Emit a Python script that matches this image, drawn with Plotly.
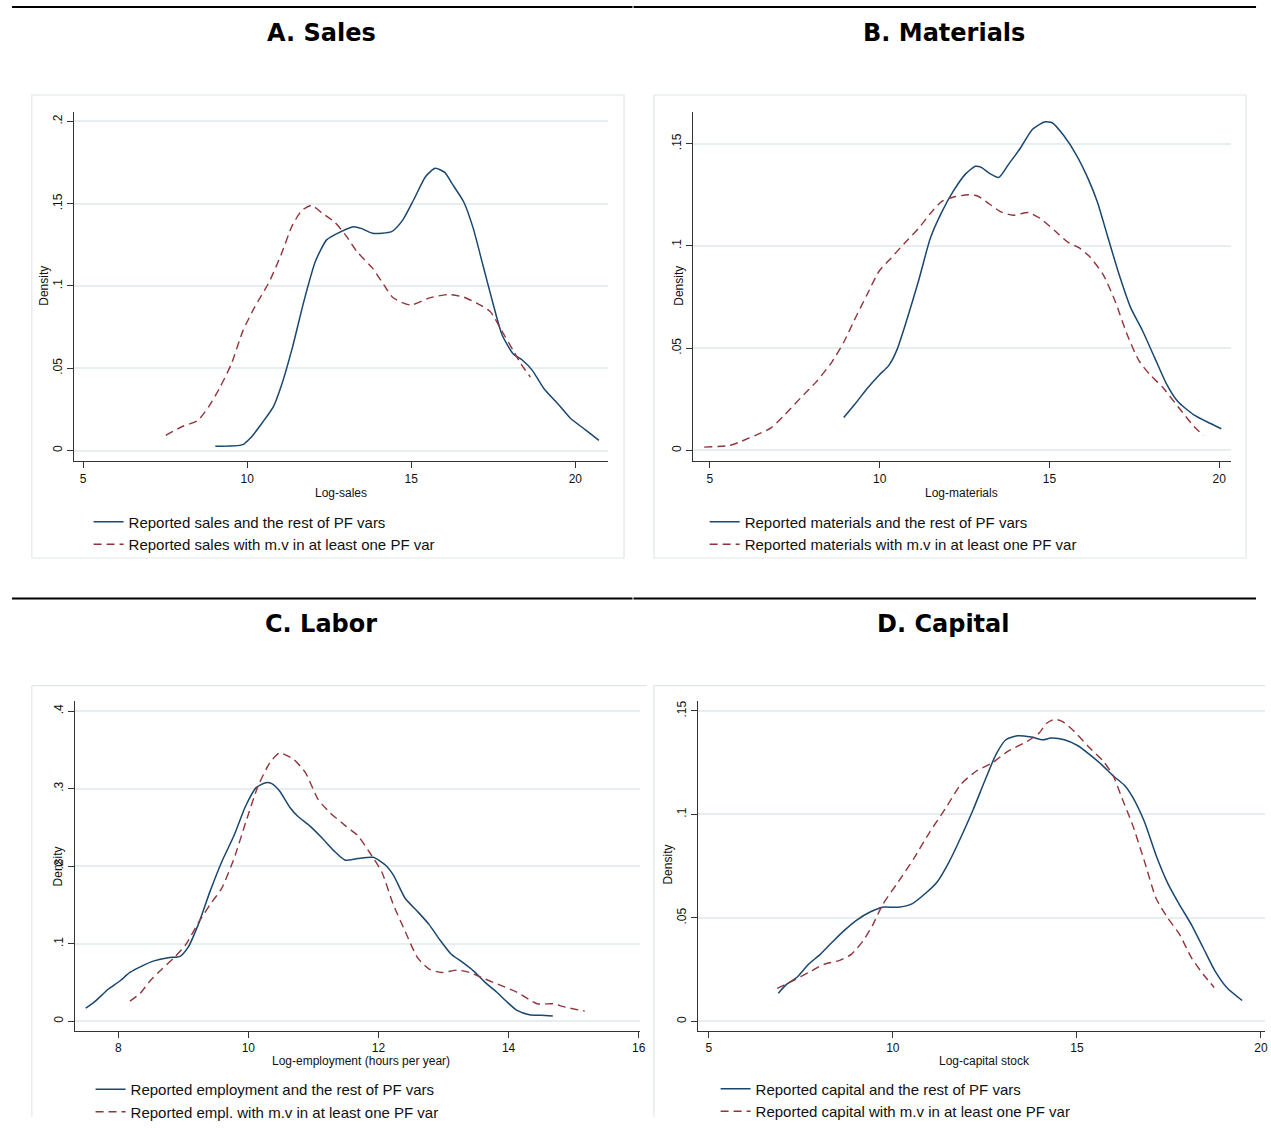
import plotly.graph_objects as go

W, H = 1271, 1128

NAVY = "#1a476f"
MAROON = "#90353b"
GRID = "#e6eef0"
BOX = "#e1e7e9"
AXIS = "#333333"

# ---- A. Sales (log-sales) ----
sales_full_x = [9.03, 9.87, 10.1, 10.45, 10.8, 11.03, 11.38, 11.73, 12.08, 12.42, 12.66, 13.24,
                13.47, 13.82, 14.4, 14.74, 15.09, 15.44, 15.73, 16.02, 16.25, 16.6, 16.89, 17.18,
                17.47, 17.76, 18.11, 18.4, 18.69, 19.04, 19.5, 19.85, 20.31, 20.72]
sales_full_y = [0.0026, 0.0036, 0.0076, 0.0166, 0.0267, 0.0387, 0.0627, 0.0908, 0.115, 0.128,
                0.131, 0.136, 0.135, 0.132, 0.133, 0.140, 0.153, 0.1665, 0.1715, 0.169, 0.162,
                0.151, 0.135, 0.113, 0.091, 0.0707, 0.0587, 0.0547, 0.0487, 0.0377, 0.0277,
                0.0196, 0.0126, 0.0062]
sales_mv_x = [7.52, 8.02, 8.48, 8.83, 9.18, 9.52, 9.87, 10.22, 10.68, 11.03, 11.38, 11.67, 11.96,
              12.31, 12.66, 13.0, 13.35, 13.82, 14.16, 14.45, 14.98, 15.56, 16.14, 16.6, 17.06,
              17.41, 17.76, 18.11, 18.34, 18.63]
sales_mv_y = [0.0092, 0.0146, 0.018, 0.0267, 0.0387, 0.0527, 0.0727, 0.0868, 0.1028, 0.1188,
              0.137, 0.1459, 0.1489, 0.1439, 0.1389, 0.1309, 0.1208, 0.1108, 0.1008, 0.0928,
              0.0884, 0.0928, 0.0948, 0.0932, 0.0888, 0.0844, 0.0727, 0.0607, 0.0527, 0.0447]

# ---- B. Materials (log-materials) ----
mat_full_x = [8.94, 9.29, 9.63, 9.98, 10.27, 10.5, 10.79, 11.14, 11.49, 11.83, 12.18, 12.53,
              12.82, 12.99, 13.22, 13.51, 13.8, 14.15, 14.5, 14.85, 15.08, 15.43, 15.78, 16.12,
              16.41, 16.7, 17.05, 17.39, 17.74, 18.09, 18.44, 18.78, 19.25, 19.71, 20.06]
mat_full_y = [0.0161, 0.0231, 0.0303, 0.0368, 0.0416, 0.0489, 0.0634, 0.0827, 0.1037, 0.1166,
              0.1271, 0.1352, 0.1389, 0.1384, 0.1356, 0.1335, 0.140, 0.148, 0.157, 0.1606,
              0.1602, 0.1537, 0.1448, 0.1335, 0.1215, 0.1053, 0.086, 0.0698, 0.0585, 0.0456,
              0.0327, 0.0239, 0.0174, 0.0134, 0.0106]
mat_mv_x = [4.83, 5.58, 5.93, 6.39, 6.8, 7.2, 7.66, 8.13, 8.59, 8.94, 9.29, 9.63, 9.98, 10.33,
            10.73, 11.14, 11.49, 11.83, 12.18, 12.59, 12.88, 13.22, 13.57, 13.92, 14.38, 14.73,
            15.19, 15.54, 15.89, 16.18, 16.58, 16.93, 17.28, 17.63, 17.97, 18.32, 18.78, 19.25,
            19.54]
mat_mv_y = [0.0016, 0.0024, 0.0045, 0.0077, 0.011, 0.0174, 0.0255, 0.0335, 0.0432, 0.0529,
            0.065, 0.0763, 0.0876, 0.094, 0.1013, 0.1085, 0.1158, 0.1218, 0.1239, 0.125, 0.1244,
            0.1206, 0.1166, 0.115, 0.1163, 0.1134, 0.1069, 0.1018, 0.0989, 0.0948, 0.086,
            0.0731, 0.0569, 0.044, 0.0368, 0.0311, 0.0215, 0.0118, 0.0073]

# ---- C. Labor (log-employment, hours per year) ----
lab_full_x = [7.5, 7.63, 7.85, 8.03, 8.18, 8.37, 8.55, 8.77, 8.95, 9.07, 9.23, 9.41, 9.59, 9.78,
              9.96, 10.12, 10.27, 10.36, 10.48, 10.64, 10.76, 10.94, 11.13, 11.31, 11.49, 11.68,
              11.92, 12.11, 12.23, 12.41, 12.6, 12.78, 12.94, 13.12, 13.3, 13.46, 13.64, 13.82,
              13.98, 14.13, 14.32, 14.5, 14.68]
lab_full_y = [0.017, 0.0247, 0.0417, 0.0523, 0.063, 0.0715, 0.0779, 0.0821, 0.0838, 0.0949,
              0.1247, 0.1672, 0.2055, 0.2396, 0.2779, 0.3013, 0.3077, 0.3064, 0.297, 0.2757,
              0.2643, 0.2523, 0.2366, 0.2204, 0.2077, 0.2098, 0.2115, 0.2013, 0.1885, 0.1587,
              0.1417, 0.1247, 0.1055, 0.0864, 0.0757, 0.0651, 0.0502, 0.0374, 0.0247, 0.014,
              0.0085, 0.0077, 0.0068]
lab_mv_x = [8.18, 8.34, 8.49, 8.67, 8.86, 9.04, 9.23, 9.41, 9.59, 9.78, 9.96, 10.15, 10.33,
            10.48, 10.7, 10.88, 11.07, 11.25, 11.49, 11.68, 11.86, 12.05, 12.23, 12.41, 12.6,
            12.78, 12.97, 13.21, 13.4, 13.64, 13.89, 14.13, 14.44, 14.68, 14.87, 15.17]
lab_mv_y = [0.026, 0.0362, 0.0523, 0.0672, 0.0821, 0.0991, 0.1268, 0.1502, 0.1715, 0.2098,
            0.2566, 0.3034, 0.3332, 0.346, 0.3374, 0.3204, 0.2864, 0.2694, 0.2523, 0.2396,
            0.2183, 0.1928, 0.1502, 0.1162, 0.0821, 0.0672, 0.063, 0.066, 0.063, 0.0545,
            0.046, 0.0374, 0.0226, 0.0226, 0.0183, 0.0132]

# ---- D. Capital (log-capital stock) ----
cap_full_x = [6.89, 7.12, 7.39, 7.71, 8.03, 8.34, 8.66, 9.03, 9.41, 9.72, 10.15, 10.52, 10.89,
              11.21, 11.53, 11.85, 12.17, 12.48, 12.8, 13.07, 13.39, 13.76, 14.08, 14.29, 14.66,
              15.03, 15.35, 15.67, 15.99, 16.31, 16.52, 16.84, 17.15, 17.47, 17.79, 18.11,
              18.43, 18.75, 19.07, 19.49]
cap_full_y = [0.0136, 0.018, 0.0212, 0.0276, 0.0324, 0.038, 0.0436, 0.0491, 0.0531, 0.0552,
              0.0552, 0.0568, 0.0619, 0.0675, 0.0771, 0.089, 0.1018, 0.1154, 0.1289, 0.1361,
              0.138, 0.1374, 0.1361, 0.1369, 0.1361, 0.1332, 0.1289, 0.1241, 0.1186, 0.1138,
              0.1082, 0.0962, 0.0803, 0.0667, 0.0563, 0.0468, 0.0356, 0.0244, 0.0164, 0.0101]
cap_mv_x = [6.86, 7.28, 7.71, 8.13, 8.56, 8.87, 9.19, 9.46, 9.72, 10.15, 10.57, 11.0, 11.42,
            11.85, 12.27, 12.7, 13.12, 13.65, 13.97, 14.18, 14.39, 14.61, 14.93, 15.35, 15.72,
            15.99, 16.2, 16.52, 16.84, 17.15, 17.47, 17.79, 18.11, 18.43, 18.73]
cap_mv_y = [0.016, 0.0196, 0.0236, 0.0276, 0.0295, 0.0324, 0.0388, 0.0468, 0.0563, 0.0675,
            0.0787, 0.0914, 0.1026, 0.1146, 0.121, 0.1249, 0.1305, 0.1353, 0.1393, 0.1441,
            0.146, 0.1449, 0.1401, 0.1321, 0.1257, 0.1186, 0.109, 0.0946, 0.0771, 0.0595,
            0.0499, 0.042, 0.0308, 0.0228, 0.0164]

# Tick values and labels
sales_xticks = [5, 10, 15, 20]
mat_xticks = [5, 10, 15, 20]
lab_xticks = [8, 10, 12, 14, 16]
cap_xticks = [5, 10, 15, 20]
sales_yticks = [0, 0.05, 0.1, 0.15, 0.2]
sales_ylabels = ["0", ".05", ".1", ".15", ".2"]
mat_yticks = [0, 0.05, 0.1, 0.15]
mat_ylabels = ["0", ".05", ".1", ".15"]
lab_yticks = [0, 0.1, 0.2, 0.3, 0.4]
lab_ylabels = ["0", ".1", ".2", ".3", ".4"]
cap_yticks = [0, 0.05, 0.1, 0.15]
cap_ylabels = ["0", ".05", ".1", ".15"]

panel_titles = ["A. Sales", "B. Materials", "C. Labor", "D. Capital"]
x_titles = ["Log-sales", "Log-materials", "Log-employment (hours per year)", "Log-capital stock"]
legend_full = ["Reported sales and the rest of PF vars",
               "Reported materials and the rest of PF vars",
               "Reported employment and the rest of PF vars",
               "Reported capital and the rest of PF vars"]
legend_mv = ["Reported sales with m.v in at least one PF var",
             "Reported materials with m.v in at least one PF var",
             "Reported empl. with m.v in at least one PF var",
             "Reported capital with m.v in at least one PF var"]


def px(x):
    return x / W


def py(y):
    return 1 - y / H


TEXT_FONT = "Liberation Sans, Arial, sans-serif"

# Per-panel geometry (pixel frame of the plot area) and axis ranges
panels = [
    dict(frame=(74, 611, 111.7, 465), xr=[4.712, 21.0], yr=[-0.0064, 0.206],
         xt=sales_xticks, yt=sales_yticks, yl=sales_ylabels,
         data=(sales_full_x, sales_full_y, sales_mv_x, sales_mv_y),
         title_xy=(323, 32), xtitle_xy=(343, 497), ytitle_xy=(44, 288),
         legend_xy=(89, 510), box=(32, 95, 627, 563)),
    dict(frame=(696.6, 1237, 111.7, 465), xr=[4.51, 20.35], yr=[-0.0052, 0.1657],
         xt=mat_xticks, yt=mat_yticks, yl=mat_ylabels,
         data=(mat_full_x, mat_full_y, mat_mv_x, mat_mv_y),
         title_xy=(948, 32), xtitle_xy=(966, 497), ytitle_xy=(682, 288),
         legend_xy=(708, 510), box=(657, 95, 1252, 563)),
    dict(frame=(75, 643, 708, 1041), xr=[7.33, 16.02], yr=[-0.0124, 0.4124],
         xt=lab_xticks, yt=lab_yticks, yl=lab_ylabels,
         data=(lab_full_x, lab_full_y, lab_mv_x, lab_mv_y),
         title_xy=(323, 630), xtitle_xy=(363, 1071), ytitle_xy=(58, 875),
         legend_xy=(91, 1084), box=None),
    dict(frame=(701, 1271, 708, 1041), xr=[4.70, 20.11], yr=[-0.0046, 0.1546],
         xt=cap_xticks, yt=cap_yticks, yl=cap_ylabels,
         data=(cap_full_x, cap_full_y, cap_mv_x, cap_mv_y),
         title_xy=(948, 630), xtitle_xy=(989, 1071), ytitle_xy=(671, 873),
         legend_xy=(719, 1083), box=None),
]

fig = go.Figure()
annotations = []
shapes = []
layout_axes = {}

for i, p in enumerate(panels):
    n = "" if i == 0 else str(i + 1)
    xa, ya = "x" + n, "y" + n
    leg = "legend" + n
    fx, fy, mx, my = p["data"]
    fig.add_trace(go.Scatter(
        x=fx, y=fy, mode="lines", name=legend_full[i], xaxis=xa, yaxis=ya, legend=leg,
        line=dict(color=NAVY, width=1.5, shape="spline", smoothing=0.6)))
    fig.add_trace(go.Scatter(
        x=mx, y=my, mode="lines", name=legend_mv[i], xaxis=xa, yaxis=ya, legend=leg,
        line=dict(color=MAROON, width=1.4, dash="8px,5px", shape="spline", smoothing=0.6)))

    x0, x1, y0, y1 = p["frame"]
    layout_axes["xaxis" + n] = dict(
        domain=[px(x0), min(px(x1), 1.0)], range=p["xr"], anchor=ya,
        tickvals=p["xt"], ticktext=[str(v) for v in p["xt"]],
        ticks="outside", ticklen=6, tickwidth=1, tickcolor=AXIS,
        showline=True, linecolor=AXIS, linewidth=1.2,
        showgrid=False, zeroline=False, fixedrange=True,
        tickfont=dict(family=TEXT_FONT, size=12, color="#111111"))
    layout_axes["yaxis" + n] = dict(
        domain=[py(y1), py(y0)], range=p["yr"], anchor=xa,
        tickvals=p["yt"], ticktext=p["yl"], tickangle=-90,
        ticks="outside", ticklen=6, tickwidth=1, tickcolor=AXIS,
        showline=True, linecolor=AXIS, linewidth=1.2,
        showgrid=True, gridcolor=GRID, gridwidth=1.5, zeroline=False, fixedrange=True,
        tickfont=dict(family=TEXT_FONT, size=12, color="#111111"))

    layout_axes[leg] = dict(
        x=px(p["legend_xy"][0]), y=py(p["legend_xy"][1]), xanchor="left", yanchor="top",
        bgcolor="rgba(0,0,0,0)", borderwidth=0, itemwidth=30, tracegroupgap=2,
        font=dict(family=TEXT_FONT, size=15, color="#111111"))

    tx, ty = p["title_xy"]
    annotations.append(dict(
        text="<b>%s</b>" % panel_titles[i], x=px(tx), y=py(ty), xref="paper", yref="paper",
        xanchor="center", yanchor="middle", showarrow=False,
        font=dict(family="DejaVu Sans, sans-serif", size=24, color="#000000")))
    xtx, xty = p["xtitle_xy"]
    annotations.append(dict(
        text=x_titles[i], x=px(xtx), y=py(xty), xref="paper", yref="paper",
        xanchor="center", yanchor="middle", showarrow=False,
        font=dict(family=TEXT_FONT, size=12, color="#111111")))
    ytx, yty = p["ytitle_xy"]
    annotations.append(dict(
        text="Density", x=px(ytx), y=py(yty), xref="paper", yref="paper", textangle=-90,
        xanchor="center", yanchor="middle", showarrow=False,
        font=dict(family=TEXT_FONT, size=12, color="#111111")))

    if p["box"] is not None:
        bx0, by0, bx1, by1 = p["box"]
        shapes.append(dict(type="rect", xref="paper", yref="paper", layer="below",
                           x0=px(bx0), x1=px(bx1), y0=py(by1), y1=py(by0),
                           line=dict(color=BOX, width=1.2), fillcolor="rgba(0,0,0,0)"))

# Lower panel frames run off the bottom/right edges of the page
for (lx0, lx1) in [(32, 650), (657, 1271)]:
    shapes.append(dict(type="line", xref="paper", yref="paper", layer="below",
                       x0=px(lx0), x1=px(lx1), y0=py(692), y1=py(692),
                       line=dict(color=BOX, width=1.2)))
    shapes.append(dict(type="line", xref="paper", yref="paper", layer="below",
                       x0=px(lx0), x1=px(lx0), y0=py(692), y1=0,
                       line=dict(color=BOX, width=1.2)))

# Black rules above each panel heading
for ry in (6, 604):
    for (rx0, rx1) in [(12, 635.5), (636.5, 1262)]:
        shapes.append(dict(type="line", xref="paper", yref="paper",
                           x0=px(rx0), x1=px(rx1), y0=py(ry), y1=py(ry),
                           line=dict(color="#000000", width=2)))

fig.update_layout(
    width=W, height=H, margin=dict(l=0, r=0, t=0, b=0),
    paper_bgcolor="white", plot_bgcolor="white",
    annotations=annotations, shapes=shapes, **layout_axes)

fig.write_html("out.html")
